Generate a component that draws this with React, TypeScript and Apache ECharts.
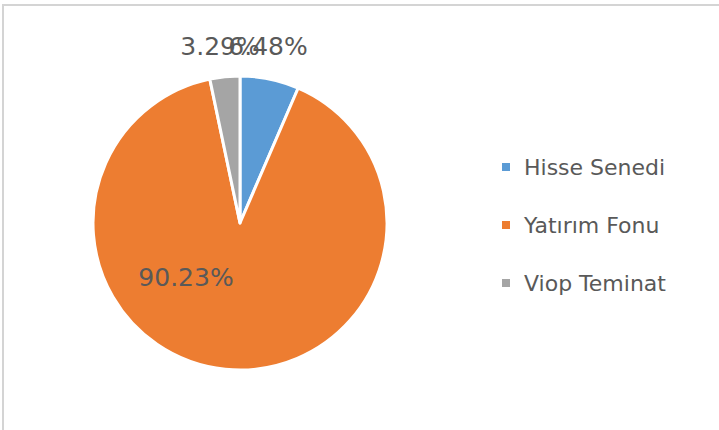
import React, { useEffect, useRef } from "react";
import * as echarts from "echarts";

const categories = ["Hisse Senedi", "Yatırım Fonu", "Viop Teminat"];
const values = [6.48, 90.23, 3.29];
const colors = ["#5B9BD5", "#ED7D31", "#A5A5A5"];

// label anchor positions (styling only)
const labelPos: Record<number, [number, number]> = {
  0: [268, 46],
  1: [186, 277],
  2: [220, 46],
};

export default function App() {
  const ref = useRef<HTMLDivElement>(null);
  useEffect(() => {
    if (!ref.current) return;
    const chart = echarts.init(ref.current, null, { renderer: "svg" });
    chart.setOption({
      animation: false,
      backgroundColor: "#ffffff",
      graphic: [
        {
          type: "rect",
          shape: { x: 3, y: 5, width: 800, height: 500 },
          style: { fill: "none", stroke: "#d4d4d4", lineWidth: 2 },
          silent: true,
        },
      ],
      legend: {
        orient: "vertical",
        left: 495,
        top: 149,
        icon: "rect",
        itemWidth: 10,
        itemHeight: 10,
        itemGap: 32,
        data: categories,
        textStyle: {
          color: "#595959",
          fontFamily: "DejaVu Sans",
          fontSize: 22,
          lineHeight: 26,
          padding: [0, 0, 0, 8],
        },
      },
      series: [
        {
          type: "pie",
          center: [240, 223],
          radius: 147,
          startAngle: 90,
          clockwise: true,
          itemStyle: { borderColor: "#ffffff", borderWidth: 3 },
          label: {
            show: true,
            position: "inside",
            formatter: (p: any) => p.value.toFixed(2) + "%",
            color: "#595959",
            fontFamily: "DejaVu Sans",
            fontSize: 25,
          },
          labelLine: { show: false },
          labelLayout: (params: any) => {
            const pos = labelPos[params.dataIndex];
            return { x: pos[0], y: pos[1], align: "center", verticalAlign: "middle" };
          },
          data: categories.map((name, i) => ({
            name,
            value: values[i],
            itemStyle: { color: colors[i] },
          })),
        },
      ],
    });
    return () => chart.dispose();
  }, []);
  return (
    <div
      ref={ref}
      style={{ position: "fixed", left: 0, top: 0, width: 719, height: 430 }}
    />
  );
}
